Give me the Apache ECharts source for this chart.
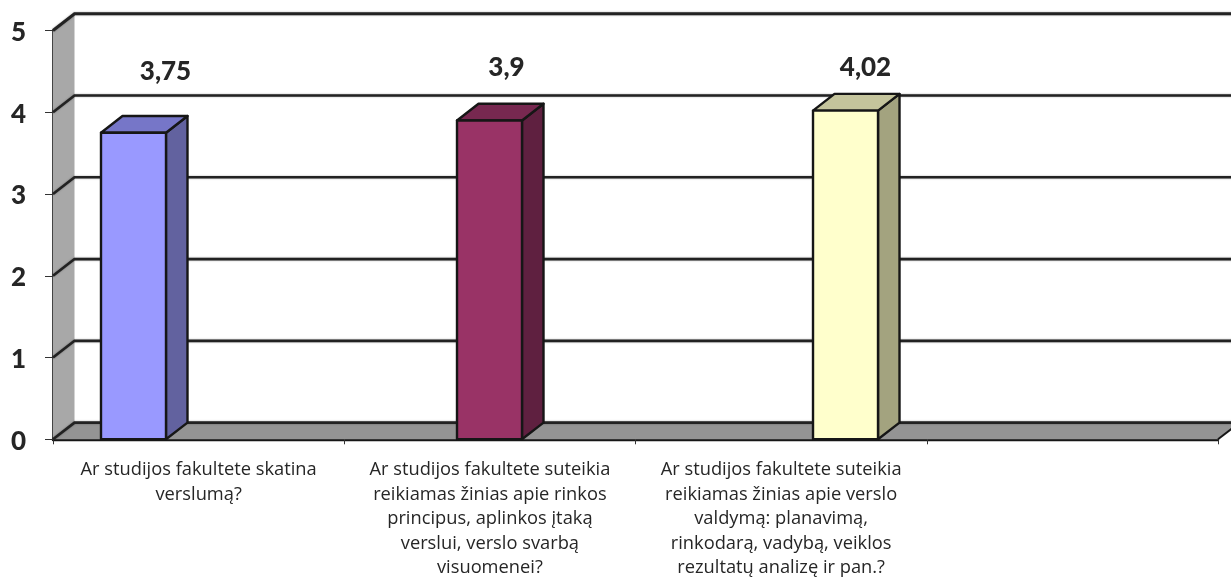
<!DOCTYPE html>
<html>
<head>
<meta charset="utf-8">
<style>html,body{margin:0;padding:0;background:#fff}#c{width:1231px;height:578px}</style>
<script src="https://cdn.jsdelivr.net/npm/echarts@6/dist/echarts.min.js"></script>
</head>
<body>
<div id="c"></div>
<script>
const categories = [
  "Ar studijos fakultete skatina\nverslumą?",
  "Ar studijos fakultete suteikia\nreikiamas žinias apie rinkos\nprincipus, aplinkos įtaką\nverslui, verslo svarbą\nvisuomenei?",
  "Ar studijos fakultete suteikia\nreikiamas žinias apie verslo\nvaldymą: planavimą,\nrinkodarą, vadybą, veiklos\nrezultatų analizę ir pan.?",
  ""
];
const barSlots = [0, 1, 2];
const barValues = [3.75, 3.9, 4.02];
const barLabels = ["3,75", "3,9", "4,02"];
const gridValues = [0, 1, 2, 3, 4, 5];

const faceColors = ["#9999ff", "#993366", "#ffffcc"];
const topColors = ["#7676c8", "#772850", "#c4c49c"];
const sideColors = ["#62629f", "#5f2040", "#a3a37f"];
const labelDx = [32, 17, 20];
const labelDy = [-61.5, -53, -43];
const DX = 21.5, DY = 16.7, BW = 65;
const EDGE = "#161616";

const chart = echarts.init(document.getElementById('c'), null, {renderer: 'canvas'});

function renderWalls(params, api) {
  const cs = params.coordSys;
  const l = cs.x, r = cs.x + cs.width, t = cs.y, b = cs.y + cs.height;
  return {type: 'group', children: [
    {type: 'polygon', shape: {points: [[l, t], [l + DX, t - DY], [l + DX, b - DY], [l, b]]},
      style: {fill: '#a8a8a8'}},
    {type: 'polygon', shape: {points: [[l, b], [l + DX, b - DY], [r + DX, b - DY], [r, b]]},
      style: {fill: '#949494'}},
    {type: 'polyline', shape: {points: [[r, b], [r + DX, b - DY]]},
      style: {stroke: EDGE, lineWidth: 2, fill: null}}
  ]};
}

function renderGrid(params, api) {
  const cs = params.coordSys;
  const p = api.coord([0, api.value(1)]);
  const x0 = cs.x, x1 = cs.x + cs.width + DX + 20;
  const top = api.value(1) === 5;
  return {type: 'polyline', shape: {points: [[x0, p[1]], [x0 + DX, p[1] - DY], [x1, p[1] - DY]]},
    style: {stroke: '#222222', lineWidth: top ? 3 : 2.6, fill: null, lineJoin: 'miter',
      shadowColor: 'rgba(0,0,0,0.35)', shadowBlur: 2}};
}

function renderBar(params, api) {
  const i = params.dataIndex;
  const c = api.coord([api.value(0), api.value(1)]);
  const base = api.coord([api.value(0), 0]);
  const x0 = c[0] - BW / 2, x1 = c[0] + BW / 2, y = c[1], b = base[1];
  const stroke = {stroke: EDGE, lineWidth: 2.4, lineJoin: 'round'};
  return {type: 'group', children: [
    {type: 'polygon', shape: {points: [[x1, y], [x1 + DX, y - DY], [x1 + DX, b - DY], [x1, b]]},
      style: Object.assign({fill: sideColors[i]}, stroke)},
    {type: 'polygon', shape: {points: [[x0, y], [x0 + DX, y - DY], [x1 + DX, y - DY], [x1, y]]},
      style: Object.assign({fill: topColors[i]}, stroke)},
    {type: 'rect', shape: {x: x0, y: y, width: BW, height: b - y},
      style: Object.assign({fill: faceColors[i]}, stroke)},
    {type: 'text', style: {text: barLabels[i], x: c[0] + labelDx[i], y: y + labelDy[i],
      align: 'center', verticalAlign: 'middle', fill: '#262626',
      font: '900 26px Lato, "Open Sans", sans-serif'}}
  ]};
}

chart.setOption({
  animation: false,
  backgroundColor: '#ffffff',
  grid: {left: 53, right: 13, top: 30.5, bottom: 138.7, containLabel: false, outerBoundsMode: 'none'},
  xAxis: [
    {type: 'category', data: categories, boundaryGap: true,
      axisLine: {show: true, onZero: false, lineStyle: {color: EDGE, width: 2.4}},
      axisTick: {show: true, alignWithLabel: false, length: 5, lineStyle: {color: '#333', width: 1}},
      axisLabel: {interval: 0, margin: 18.5, color: '#262626', fontSize: 18.3,
        fontFamily: '"Open Sans", sans-serif', lineHeight: 24.5, align: 'center', verticalAlign: 'top'},
      splitLine: {show: false}},
    {type: 'value', show: false, min: -0.2261, max: 3.0463, splitLine: {show: false}}
  ],
  yAxis: [{type: 'value', min: 0, max: 5, interval: 1,
    axisLine: {show: true, onZero: false, lineStyle: {color: EDGE, width: 2.6}},
    axisTick: {show: true, length: 8, lineStyle: {color: '#333', width: 1}},
    axisLabel: {margin: 27, color: '#262626', fontSize: 26, fontWeight: 900,
      verticalAlign: 'top', lineHeight: 4,
      fontFamily: 'Lato, "Open Sans", sans-serif'},
    splitLine: {show: false}}],
  series: [
    {type: 'custom', name: 'walls', xAxisIndex: 1, yAxisIndex: 0, z: 1, silent: true,
      data: [[0, 0]], renderItem: renderWalls, encode: {x: 0, y: 1}},
    {type: 'custom', name: 'grid', xAxisIndex: 1, yAxisIndex: 0, z: 2, silent: true,
      data: gridValues.map(v => [0, v]), renderItem: renderGrid, encode: {x: 0, y: 1}},
    {type: 'custom', name: 'bars', xAxisIndex: 1, yAxisIndex: 0, z: 3,
      data: barSlots.map((s, i) => [s, barValues[i]]), renderItem: renderBar, encode: {x: 0, y: 1}}
  ]
});
</script>
</body>
</html>
